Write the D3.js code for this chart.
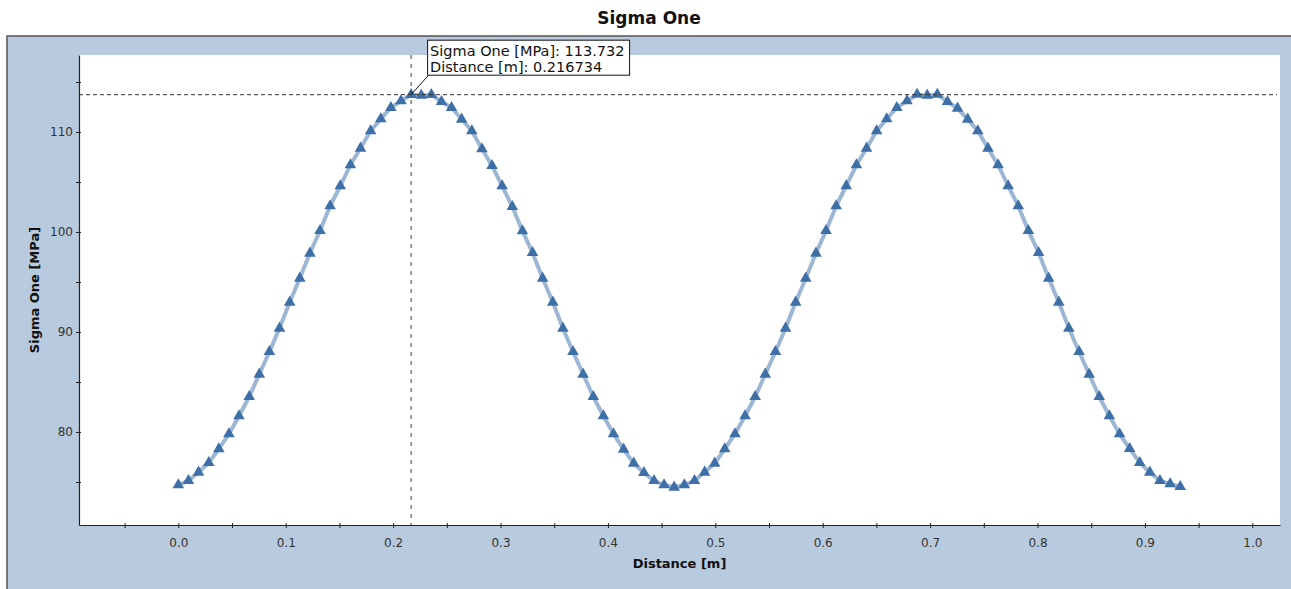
<!DOCTYPE html>
<html>
<head>
<meta charset="utf-8">
<script src="https://cdn.jsdelivr.net/npm/d3@7"></script>
<style>
body { margin: 0; background: #fff; }
svg { display: block; font-family: "DejaVu Sans", Verdana, sans-serif; }
</style>
</head>
<body>
<svg id="chart" width="1291" height="589"></svg>
<script>
// distance along the line [m]
let distances = [
    0.0000, 0.0094, 0.0188, 0.0283, 0.0377, 0.0471, 0.0565, 0.0660, 0.0754, 0.0848,
    0.0942, 0.1037, 0.1131, 0.1225, 0.1319, 0.1413, 0.1508, 0.1602, 0.1696, 0.1790,
    0.1885, 0.1979, 0.2073, 0.216734, 0.2262, 0.2356, 0.2450, 0.2544, 0.2638, 0.2733,
    0.2827, 0.2921, 0.3015, 0.3110, 0.3204, 0.3298, 0.3392, 0.3487, 0.3581, 0.3675,
    0.3769, 0.3864, 0.3958, 0.4052, 0.4146, 0.4240, 0.4335, 0.4429, 0.4523, 0.4617,
    0.4712, 0.4806, 0.4900, 0.4994, 0.5088, 0.5183, 0.5277, 0.5371, 0.5465, 0.5560,
    0.5654, 0.5748, 0.5842, 0.5937, 0.6031, 0.6125, 0.6219, 0.6314, 0.6408, 0.6502,
    0.6596, 0.6690, 0.6785, 0.6879, 0.6973, 0.7067, 0.7162, 0.7256, 0.7350, 0.7444,
    0.7539, 0.7633, 0.7727, 0.7821, 0.7915, 0.8010, 0.8104, 0.8198, 0.8292, 0.8387,
    0.8481, 0.8575, 0.8669, 0.8764, 0.8858, 0.8952, 0.9046, 0.9140, 0.9235, 0.9329
];

// sigma one [MPa]
let sigmaOne = [
    74.70, 75.13, 75.97, 76.93, 78.30, 79.80, 81.60, 83.53, 85.77, 88.03,
    90.37, 92.97, 95.37, 97.87, 100.13, 102.60, 104.60, 106.70, 108.37, 110.10,
    111.30, 112.43, 113.10, 113.732, 113.66, 113.73, 113.03, 112.43, 111.27, 110.10,
    108.30, 106.63, 104.60, 102.53, 100.10, 97.93, 95.37, 92.97, 90.37, 88.03,
    85.77, 83.53, 81.60, 79.80, 78.27, 76.87, 75.93, 75.13, 74.70, 74.47,
    74.70, 75.13, 75.97, 76.87, 78.30, 79.80, 81.60, 83.53, 85.77, 88.03,
    90.37, 92.97, 95.37, 97.87, 100.13, 102.60, 104.60, 106.70, 108.37, 110.10,
    111.30, 112.43, 113.10, 113.75, 113.66, 113.75, 113.03, 112.37, 111.27, 110.10,
    108.37, 106.70, 104.60, 102.60, 100.13, 97.93, 95.37, 92.97, 90.37, 88.03,
    85.77, 83.53, 81.60, 79.80, 78.33, 76.93, 75.97, 75.13, 74.80, 74.53
];

let xMajorTicks = [0.0, 0.1, 0.2, 0.3, 0.4, 0.5, 0.6, 0.7, 0.8, 0.9, 1.0];
let xMinorTicks = [-0.05, 0.05, 0.15, 0.25, 0.35, 0.45, 0.55, 0.65, 0.75, 0.85, 0.95];
let yMajorTicks = [80, 90, 100, 110];
let yMinorTicks = [75, 85, 95, 105, 115];

// point the crosshair / tooltip sits on
let hoverIndex = 23;

let chartTitle = "Sigma One";
let xTitle = "Distance [m]";
let yTitle = "Sigma One [MPa]";

let plot = {left: 79, right: 1280, top: 55, bottom: 525};

let svg = d3.select("#chart");

// outer panel
svg.append("rect")
    .attr("x", 7).attr("y", 36)
    .attr("width", 1300).attr("height", 560)
    .attr("fill", "#b8cadd")
    .attr("stroke", "#555")
    .attr("stroke-width", 1.5);

svg.append("rect")
    .attr("x", plot.left).attr("y", plot.top)
    .attr("width", plot.right - plot.left)
    .attr("height", plot.bottom - plot.top)
    .attr("fill", "#fff");

svg.append("text")
    .attr("x", 649).attr("y", 24)
    .attr("text-anchor", "middle")
    .attr("font-size", 17)
    .attr("font-weight", "bold")
    .attr("fill", "#111")
    .text(chartTitle);

let x = d3.scaleLinear()
    .domain([-0.0925, 1.0258])
    .range([plot.left, plot.right]);

let y = d3.scaleLinear()
    .domain([70.7, 117.7])
    .range([plot.bottom, plot.top]);

let points = distances.map(function(d, i) {
    return {x: d, y: sigmaOne[i]};
});

// series line
let line = d3.line()
    .x(function(d) { return x(d.x); })
    .y(function(d) { return y(d.y); });

svg.append("path")
    .datum(points)
    .attr("d", line)
    .attr("fill", "none")
    .attr("stroke", "#9db6d3")
    .attr("stroke-width", 4)
    .attr("stroke-linejoin", "round");

svg.append("g")
    .selectAll("path")
    .data(points)
    .enter()
    .append("path")
    .attr("transform", function(d) { return "translate(" + [x(d.x), y(d.y)] + ")"; })
    .attr("d", d3.symbol().type(d3.symbolTriangle).size(58))
    .attr("fill", "#3f6fa7");

// axes
let xAxis = d3.axisBottom(x)
    .tickValues(xMajorTicks.concat(xMinorTicks))
    .tickSize(3)
    .tickSizeOuter(0)
    .tickPadding(10)
    .tickFormat(function(d) {
        return xMajorTicks.includes(d) ? d3.format(".1f")(d) : "";
    });

let yAxis = d3.axisLeft(y)
    .tickValues(yMajorTicks.concat(yMinorTicks))
    .tickSize(3)
    .tickSizeOuter(0)
    .tickPadding(3)
    .tickFormat(function(d) {
        return yMajorTicks.includes(d) ? d : "";
    });

let gx = svg.append("g")
    .attr("transform", "translate(0," + plot.bottom + ")")
    .call(xAxis);
gx.selectAll(".tick line").attr("y1", -2);

let gy = svg.append("g")
    .attr("transform", "translate(" + plot.left + ",0)")
    .call(yAxis);
gy.selectAll(".tick line").attr("x1", 2);

[gx, gy].forEach(function(g) {
    g.select(".domain").attr("stroke", "#222").attr("stroke-width", 1.2);
    g.selectAll(".tick line").attr("stroke", "#222");
    g.selectAll("text")
        .attr("font-family", "DejaVu Sans, sans-serif")
        .attr("font-size", 12)
        .attr("fill", "#333");
});

svg.append("text")
    .attr("x", (plot.left + plot.right) / 2)
    .attr("y", 568)
    .attr("text-anchor", "middle")
    .attr("font-size", 13)
    .attr("font-weight", "bold")
    .attr("fill", "#111")
    .text(xTitle);

svg.append("text")
    .attr("transform", "translate(39," + (plot.top + plot.bottom) / 2 + ") rotate(-90)")
    .attr("text-anchor", "middle")
    .attr("font-size", 13)
    .attr("font-weight", "bold")
    .attr("fill", "#111")
    .text(yTitle);

// crosshair
let hx = x(distances[hoverIndex]);
let hy = y(sigmaOne[hoverIndex]);

svg.append("line")
    .attr("x1", plot.left).attr("x2", plot.right - 3)
    .attr("y1", hy).attr("y2", hy)
    .attr("stroke", "#333")
    .attr("stroke-dasharray", "4,3");

svg.append("line")
    .attr("x1", hx).attr("x2", hx)
    .attr("y1", plot.top).attr("y2", plot.bottom)
    .attr("stroke", "#444")
    .attr("stroke-dasharray", "4,5");

// tooltip
let tipX = hx + 16;
let tipY = hy - 55;

svg.append("line")
    .attr("x1", tipX + 1).attr("y1", tipY + 36)
    .attr("x2", hx).attr("y2", hy)
    .attr("stroke", "#111");

svg.append("rect")
    .attr("x", tipX + 0.5).attr("y", tipY + 0.5)
    .attr("width", 202).attr("height", 35)
    .attr("fill", "#fff")
    .attr("stroke", "#111");

let tipLines = [
    yTitle + ": " + sigmaOne[hoverIndex],
    xTitle + ": " + distances[hoverIndex]
];

svg.append("g")
    .selectAll("text")
    .data(tipLines)
    .enter()
    .append("text")
    .attr("x", tipX + 3)
    .attr("y", function(d, i) { return tipY + 16 + i * 16; })
    .attr("font-size", 14.5)
    .attr("fill", "#111")
    .text(function(d) { return d; });
</script>
</body>
</html>
